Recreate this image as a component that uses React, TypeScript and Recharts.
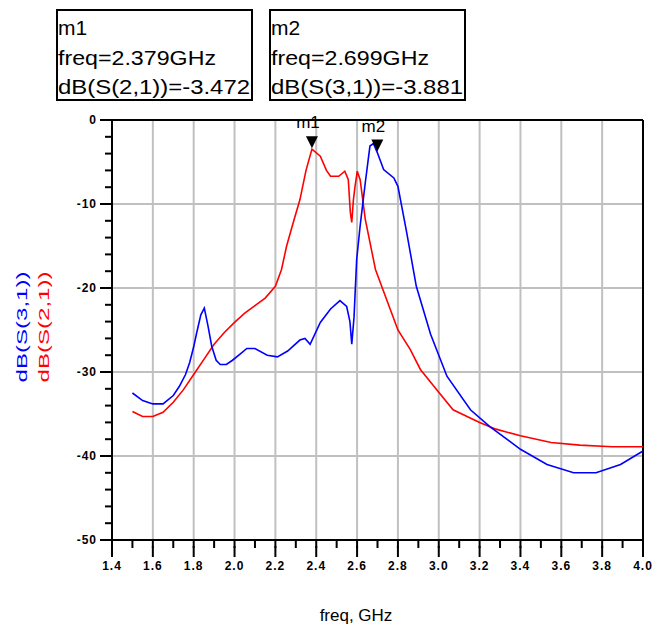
import React from 'react';
import { LineChart, Line, XAxis, YAxis, ReferenceLine, ReferenceDot } from 'recharts';

// dB(S(2,1)) - red trace
const s21Freq = [1.5, 1.55, 1.6, 1.65, 1.7, 1.75, 1.8, 1.85, 1.9, 1.95, 2.0, 2.05, 2.1, 2.15, 2.2, 2.23, 2.255, 2.29, 2.32, 2.35, 2.379, 2.42, 2.45, 2.47, 2.51, 2.54, 2.557, 2.567, 2.574, 2.582, 2.59, 2.601, 2.615, 2.64, 2.69, 2.745, 2.8, 2.86, 2.91, 2.99, 3.07, 3.2, 3.28, 3.4, 3.55, 3.69, 3.85, 4.0];
const s21Db = [-34.7, -35.3, -35.3, -34.8, -33.6, -32.1, -30.3, -28.5, -26.7, -25.3, -24.1, -23.0, -22.1, -21.2, -19.8, -17.8, -15.0, -12.0, -9.5, -6.0, -3.47, -4.3, -6.0, -6.7, -6.7, -6.1, -7.1, -11.0, -12.2, -9.5, -7.9, -6.1, -7.1, -11.8, -17.8, -21.4, -25.0, -27.3, -29.7, -32.1, -34.5, -36.0, -36.8, -37.6, -38.4, -38.7, -38.9, -38.9];

// dB(S(3,1)) - blue trace
const s31Freq = [1.5, 1.55, 1.6, 1.65, 1.7, 1.73, 1.76, 1.78, 1.8, 1.815, 1.835, 1.852, 1.87, 1.888, 1.91, 1.93, 1.96, 1.99, 2.03, 2.06, 2.1, 2.16, 2.21, 2.26, 2.32, 2.345, 2.37, 2.42, 2.47, 2.516, 2.549, 2.565, 2.574, 2.585, 2.598, 2.615, 2.64, 2.663, 2.68, 2.699, 2.73, 2.78, 2.8, 2.843, 2.89, 2.96, 3.04, 3.155, 3.25, 3.4, 3.53, 3.66, 3.77, 3.89, 4.0];
const s31Db = [-32.5, -33.4, -33.8, -33.8, -32.8, -31.7, -30.3, -28.9, -27.0, -25.3, -23.2, -22.4, -24.5, -26.9, -28.6, -29.1, -29.1, -28.6, -27.8, -27.2, -27.2, -28.0, -28.2, -27.5, -26.2, -26.0, -26.7, -24.1, -22.5, -21.5, -22.2, -24.0, -26.7, -23.5, -16.6, -12.6, -7.5, -3.1, -2.8, -3.88, -5.9, -6.9, -7.9, -13.4, -19.8, -25.5, -30.5, -34.5, -36.5, -39.2, -41.0, -42.0, -42.0, -41.0, -39.4];

const xMajor = [1.4, 1.6, 1.8, 2.0, 2.2, 2.4, 2.6, 2.8, 3.0, 3.2, 3.4, 3.6, 3.8, 4.0];
const xTicks = [1.4, 1.5, 1.6, 1.7, 1.8, 1.9, 2.0, 2.1, 2.2, 2.3, 2.4, 2.5, 2.6, 2.7, 2.8, 2.9, 3.0, 3.1, 3.2, 3.3, 3.4, 3.5, 3.6, 3.7, 3.8, 3.9, 4.0];
const yMajor = [0, -10, -20, -30, -40, -50];
const yTicks = [0, -2, -4, -6, -8, -10, -12, -14, -16, -18, -20, -22, -24, -26, -28, -30, -32, -34, -36, -38, -40, -42, -44, -46, -48, -50];

const markers = [
  { name: 'm1', freq: 2.379, db: -3.472, trace: 'dB(S(2,1))' },
  { name: 'm2', freq: 2.699, db: -3.881, trace: 'dB(S(3,1))' },
];

const s21Data = s21Freq.map((f, i) => ({ freq: f, db: s21Db[i] }));
const s31Data = s31Freq.map((f, i) => ({ freq: f, db: s31Db[i] }));

const FONT = 'Liberation Sans, Arial, sans-serif';
const isMajor = (list: number[], v: number) => list.some((m) => Math.abs(m - v) < 1e-6);

// built-in tick lines are the short (minor) ones; majors get an extra piece here
const XTick = (props: any) => {
  const { x, y, payload } = props;
  const v = payload.value;
  if (!isMajor(xMajor, v)) return <g />;
  return (
    <g>
      <path d={`M${x},${y - 2}L${x},${y + 9}`} stroke="#000" strokeWidth={2} fill="none" />
      <text x={x} y={y + 22} textAnchor="middle" fontFamily={FONT} fontSize={12} fontWeight="bold" fill="#000" letterSpacing={1}>
        {v.toFixed(1)}
      </text>
    </g>
  );
};

const YTick = (props: any) => {
  const { x, y, payload } = props;
  const v = payload.value;
  if (!isMajor(yMajor, v)) return <g />;
  return (
    <g>
      <path d={`M${x + 2},${y}L${x - 5},${y}`} stroke="#000" strokeWidth={2} fill="none" />
      <text x={x - 8} y={y + 4} textAnchor="end" fontFamily={FONT} fontSize={12} fontWeight="bold" fill="#000" letterSpacing={1}>
        {String(v)}
      </text>
    </g>
  );
};

const MarkerShape = (name: string) => (props: any) => {
  const { cx, cy } = props;
  return (
    <g>
      <polygon points={`${cx - 6},${cy - 13} ${cx + 6},${cy - 13} ${cx},${cy - 1}`} fill="#000" />
      <text x={cx - 4} y={cy - 21} textAnchor="middle" fontFamily={FONT} fontSize={17} fill="#000">
        {name}
      </text>
    </g>
  );
};

const MarkerBox = ({ left, m }: { left: number; m: (typeof markers)[number] }) => (
  <g>
    <rect x={left} y={10} width={195} height={90} fill="#fff" stroke="#000" strokeWidth={2} />
    <text x={left + 1} y={35} fontFamily={FONT} fontSize={21} fill="#000">{m.name}</text>
    <text x={left + 1} y={65} fontFamily={FONT} fontSize={21} fill="#000" textLength={158} lengthAdjust="spacingAndGlyphs">
      {`freq=${m.freq.toFixed(3)}GHz`}
    </text>
    <text x={left + 1} y={94} fontFamily={FONT} fontSize={21} fill="#000" textLength={192} lengthAdjust="spacingAndGlyphs">
      {`${m.trace}=${m.db.toFixed(3)}`}
    </text>
  </g>
);

const App = () => {
  return (
    <div style={{ position: 'absolute', left: 0, top: 0, width: 659, height: 629, background: '#fff' }}>
      <LineChart width={659} height={629} margin={{ top: 120, right: 16, bottom: 0, left: 0 }}>
        <XAxis
          dataKey="freq"
          type="number"
          domain={[1.4, 4.0]}
          ticks={xTicks}
          interval={0}
          allowDataOverflow
          height={89}
          tickSize={8}
          tickMargin={0}
          tickLine={{ stroke: '#000', strokeWidth: 2 }}
          tick={<XTick />}
          axisLine={{ stroke: '#000', strokeWidth: 2 }}
        />
        <YAxis
          type="number"
          domain={[-50, 0]}
          ticks={yTicks}
          interval={0}
          allowDataOverflow
          width={112}
          tickSize={7}
          tickMargin={0}
          tickLine={{ stroke: '#000', strokeWidth: 2 }}
          tick={<YTick />}
          axisLine={{ stroke: '#000', strokeWidth: 2 }}
        />
        {xMajor.slice(1, -1).map((v) => (
          <ReferenceLine key={`gx${v}`} x={v} stroke="#c0c0c0" strokeWidth={2} />
        ))}
        {yMajor.slice(1, -1).map((v) => (
          <ReferenceLine key={`gy${v}`} y={v} stroke="#c0c0c0" strokeWidth={2} />
        ))}
        <ReferenceLine x={4.0} stroke="#000" strokeWidth={2} />
        <ReferenceLine y={0} stroke="#000" strokeWidth={2} />
        <Line data={s21Data} dataKey="db" type="linear" stroke="#ff0000" strokeWidth={1.6} dot={false} isAnimationActive={false} />
        <Line data={s31Data} dataKey="db" type="linear" stroke="#0000ff" strokeWidth={1.6} dot={false} isAnimationActive={false} />
        {markers.map((m) => (
          <ReferenceDot key={m.name} x={m.freq} y={m.db} r={0} shape={MarkerShape(m.name)} />
        ))}
      </LineChart>
      <svg width={659} height={629} style={{ position: 'absolute', left: 0, top: 0, pointerEvents: 'none' }}>
        <MarkerBox left={57} m={markers[0]} />
        <MarkerBox left={270} m={markers[1]} />
        <text x={356} y={621} textAnchor="middle" fontFamily={FONT} fontSize={17} fill="#000">
          freq, GHz
        </text>
        <text transform="translate(27,327) rotate(-90)" textAnchor="middle" fontFamily={FONT} fontSize={15} fill="#0000ff" textLength={111} lengthAdjust="spacingAndGlyphs">
          dB(S(3,1))
        </text>
        <text transform="translate(49,327) rotate(-90)" textAnchor="middle" fontFamily={FONT} fontSize={15} fill="#ff0000" textLength={111} lengthAdjust="spacingAndGlyphs">
          dB(S(2,1))
        </text>
      </svg>
    </div>
  );
};

export default App;
